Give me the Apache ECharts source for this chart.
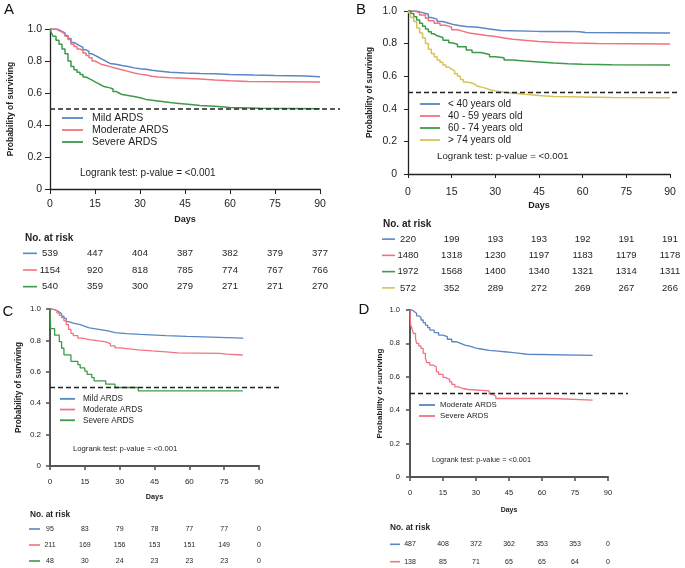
<!DOCTYPE html>
<html><head><meta charset="utf-8">
<script src="https://cdn.jsdelivr.net/npm/echarts@6/dist/echarts.min.js"></script>
<style>html,body{margin:0;padding:0;background:#fff}#c{width:685px;height:568px}</style>
</head><body><div id="c"></div>
<script>
// ---------------- DATA ----------------
const dayTicks = [0, 15, 30, 45, 60, 75, 90];
const medianRef = 0.5;
const logrankText = 'Logrank test: p-value = <0.001';

// Panel A
const A_names = ['Mild ARDS', 'Moderate ARDS', 'Severe ARDS'];
const A_mild = [[0,1],[2,0.995],[3,0.985],[4,0.975],[5,0.96],[6,0.94],[7,0.915],[8,0.905],[9,0.895],[10,0.885],[11,0.87],[12,0.86],[13,0.845],[14,0.835],[15,0.825],[16,0.815],[17,0.805],[18,0.795],[19,0.785],[20,0.78],[22,0.772],[24,0.765],[26,0.757],[28,0.752],[30,0.748],[32,0.742],[34,0.737],[36,0.73],[40,0.725],[45,0.722],[50,0.72],[55,0.716],[60,0.712],[68,0.709],[75,0.707],[85,0.702],[90,0.702]];
const A_mod = [[0,1],[2,0.99],[3,0.98],[4,0.97],[5,0.955],[6,0.935],[7,0.905],[8,0.89],[9,0.875],[10,0.865],[11,0.85],[12,0.835],[13,0.82],[14,0.80],[15,0.79],[16,0.78],[17,0.775],[18,0.765],[20,0.755],[22,0.745],[24,0.735],[26,0.725],[28,0.718],[30,0.712],[32,0.705],[34,0.70],[36,0.695],[40,0.692],[45,0.688],[50,0.682],[55,0.677],[60,0.672],[66,0.668],[90,0.667]];
const A_sev = [[0,1],[0.5,0.975],[1,0.955],[2,0.93],[3,0.905],[4,0.875],[5,0.845],[6,0.80],[7,0.765],[8,0.745],[9,0.73],[10,0.715],[11,0.70],[12,0.69],[13,0.68],[14,0.67],[15,0.66],[16,0.65],[17,0.64],[18,0.632],[20,0.625],[21,0.61],[22,0.60],[23,0.59],[24,0.585],[26,0.578],[28,0.57],[30,0.56],[32,0.555],[34,0.55],[36,0.545],[38,0.54],[40,0.535],[43,0.53],[46,0.522],[50,0.517],[55,0.51],[60,0.505],[70,0.502],[90,0.50]];
const A_riskMild = [539, 447, 404, 387, 382, 379, 377];
const A_riskMod  = [1154, 920, 818, 785, 774, 767, 766];
const A_riskSev  = [540, 359, 300, 279, 271, 271, 270];

// Panel B
const B_names = ['< 40 years old', '40 - 59 years old', '60 - 74 years old', '> 74 years old'];
const B_lt40 = [[0,1],[3,0.99],[5,0.98],[7,0.96],[8,0.95],[10,0.935],[12,0.925],[14,0.915],[16,0.91],[18,0.905],[20,0.90],[24,0.89],[28,0.88],[32,0.875],[45,0.875],[55,0.872],[59,0.868],[61,0.865],[90,0.865]];
const B_40_59 = [[0,1],[2,0.99],[4,0.975],[6,0.955],[7,0.94],[9,0.925],[11,0.912],[13,0.90],[15,0.885],[17,0.875],[19,0.865],[21,0.858],[24,0.85],[27,0.843],[30,0.835],[33,0.827],[36,0.82],[40,0.813],[45,0.808],[50,0.804],[57,0.80],[65,0.798],[90,0.796]];
const B_60_74 = [[0,1],[1,0.985],[2,0.965],[3,0.945],[4,0.925],[5,0.907],[6,0.89],[7,0.873],[8,0.86],[9,0.848],[10,0.837],[12,0.82],[14,0.805],[15,0.796],[17,0.78],[20,0.76],[22,0.745],[25,0.733],[28,0.72],[30,0.713],[33,0.70],[36,0.693],[40,0.687],[45,0.681],[50,0.677],[55,0.674],[60,0.671],[70,0.668],[90,0.665]];
const B_gt74 = [[0,1],[0.5,0.985],[1,0.96],[2,0.935],[3,0.895],[4,0.865],[5,0.835],[6,0.80],[7,0.765],[8,0.74],[9,0.72],[10,0.70],[11,0.685],[12,0.668],[13,0.655],[14,0.643],[15,0.632],[16,0.615],[17,0.60],[18,0.58],[19,0.565],[20,0.558],[22,0.55],[23,0.538],[24,0.53],[26,0.518],[28,0.51],[30,0.502],[33,0.495],[36,0.489],[40,0.482],[45,0.476],[50,0.473],[60,0.47],[70,0.468],[90,0.466]];
const B_riskLt40  = [220, 199, 193, 193, 192, 191, 191];
const B_risk40_59 = [1480, 1318, 1230, 1197, 1183, 1179, 1178];
const B_risk60_74 = [1972, 1568, 1400, 1340, 1321, 1314, 1311];
const B_riskGt74  = [572, 352, 289, 272, 269, 267, 266];

// Panel C
const C_names = ['Mild ARDS', 'Moderate ARDS', 'Severe ARDS'];
const C_mild = [[0,1],[1,0.99],[3,0.98],[4,0.97],[5,0.955],[6,0.94],[7,0.92],[8,0.91],[10,0.90],[13,0.89],[15,0.88],[17,0.87],[21,0.86],[25,0.85],[28,0.843],[33,0.838],[39,0.83],[50,0.825],[59,0.815],[83,0.81]];
const C_mod = [[0,1],[1,0.99],[3,0.975],[4,0.96],[5,0.945],[6,0.925],[7,0.90],[8,0.87],[9,0.845],[10,0.83],[12,0.815],[14,0.805],[17,0.797],[21,0.79],[24,0.78],[26,0.765],[28,0.752],[30,0.74],[38,0.733],[44,0.727],[50,0.72],[55,0.717],[73,0.713],[76,0.707],[83,0.706]];
const C_sev = [[0,1],[0.3,0.875],[2,0.833],[4,0.792],[5,0.75],[6,0.708],[9,0.667],[12,0.646],[13,0.625],[15,0.604],[16,0.583],[18,0.563],[19,0.542],[24,0.521],[28,0.50],[38,0.479],[83,0.479]];
const C_riskMild = [95, 83, 79, 78, 77, 77, 0];
const C_riskMod  = [211, 169, 156, 153, 151, 149, 0];
const C_riskSev  = [48, 30, 24, 23, 23, 23, 0];

// Panel D
const D_names = ['Moderate ARDS', 'Severe ARDS'];
const D_mod = [[0,1],[1,0.99],[2,0.98],[3,0.965],[4,0.955],[5,0.94],[6,0.925],[7,0.91],[8,0.895],[9,0.88],[11,0.865],[13,0.85],[15,0.84],[17,0.825],[19,0.81],[21,0.80],[23,0.79],[25,0.78],[28,0.772],[30,0.765],[33,0.758],[36,0.754],[40,0.75],[43,0.746],[46,0.74],[50,0.735],[53,0.728],[83,0.726]];
const D_sev = [[0,1],[0.3,0.91],[1,0.885],[1.5,0.86],[2.5,0.83],[3,0.80],[4,0.785],[5,0.77],[6,0.74],[7,0.71],[7.6,0.685],[9,0.67],[10.6,0.66],[12,0.63],[13,0.615],[15,0.596],[16,0.585],[18,0.57],[19,0.555],[20.4,0.54],[22,0.53],[24,0.524],[26.5,0.516],[36,0.496],[37,0.485],[39,0.47],[65,0.46],[83,0.46]];
const D_riskMod = [487, 408, 372, 362, 353, 353, 0];
const D_riskSev = [138, 85, 71, 65, 65, 64, 0];

// ---------------- STYLE / LAYOUT ----------------
const BLUE = '#5a86c5', RED = '#f1737f', GREEN = '#3c9a48', YELLOW = '#d6c45a';
const FONT = '"Liberation Sans", Arial, Helvetica, sans-serif';
const TXT = '#1e1e1e';

const panels = [
  { letter:'A', letterPos:[9,10],
    grid:{left:50, top:29, width:270, height:160}, dashWidth:290,
    names:A_names, curves:[A_mild,A_mod,A_sev], colors:[BLUE,RED,GREEN],
    risk:[A_riskMild,A_riskMod,A_riskSev],
    riskGrid:{top:245, height:50}, riskHead:[25,238], headFont:10, riskFont:9.5, mark:{off:-20, w:14},
    legend:{left:62, top:112, w:21, lh:12, font:10.5, pad:4},
    logrank:[80,173], logFont:10,
    tickFont:10.5, tickLen:5, xMargin:10, yMargin:8, yNameGap:35, xNameGap:26, nameFont:8.5, daysFont:9,
    axisColor:'#222', axisWidth:1.3, lineWidth:1.5 },
  { letter:'B', letterPos:[361,10],
    grid:{left:408, top:11, width:262, height:163}, dashWidth:272,
    names:B_names, curves:[B_lt40,B_40_59,B_60_74,B_gt74], colors:[BLUE,RED,GREEN,YELLOW],
    risk:[B_riskLt40,B_risk40_59,B_risk60_74,B_riskGt74],
    riskGrid:{top:231, height:65}, riskHead:[383,224], headFont:10, riskFont:9.5, mark:{off:-19.5, w:13},
    legend:{left:420, top:98, w:20, lh:12, font:10, pad:3},
    logrank:[437,156], logFont:9.7,
    tickFont:10.5, tickLen:4, xMargin:13, yMargin:11, yNameGap:34, xNameGap:27, nameFont:8.2, daysFont:9,
    axisColor:'#222', axisWidth:1.3, lineWidth:1.5 },
  { letter:'C', letterPos:[8,312],
    grid:{left:50, top:309, width:209, height:157}, dashWidth:232,
    names:C_names, curves:[C_mild,C_mod,C_sev], colors:[BLUE,RED,GREEN],
    risk:[C_riskMild,C_riskMod,C_riskSev],
    riskGrid:{top:521, height:48}, riskHead:[30,515], headFont:8.3, riskFont:7, mark:{off:-15.5, w:11},
    legend:{left:60, top:393.5, w:15, lh:10.7, font:8.2, pad:3},
    logrank:[73,449], logFont:7.7,
    tickFont:8, tickLen:4, xMargin:12, yMargin:9, yNameGap:27, xNameGap:27, nameFont:8.2, daysFont:7.3,
    axisColor:'#555', axisWidth:2, lineWidth:1.3 },
  { letter:'D', letterPos:[364,310],
    grid:{left:410, top:310, width:198, height:167}, dashWidth:218,
    names:D_names, curves:[D_mod,D_sev], colors:[BLUE,RED],
    risk:[D_riskMod,D_riskSev],
    riskGrid:{top:535.6, height:34.8}, riskHead:[390,528], headFont:8.3, riskFont:7, mark:{off:-15, w:10},
    legend:{left:419, top:399.5, w:16, lh:11, font:7.8, pad:0},
    logrank:[432,460], logFont:7.3,
    tickFont:7.5, tickLen:4, xMargin:12, yMargin:10, yNameGap:26, xNameGap:30, nameFont:8.1, daysFont:7,
    axisColor:'#555', axisWidth:2, lineWidth:1.3 }
];

const grid = [], xAxis = [], yAxis = [], series = [], legend = [], graphic = [];

panels.forEach((p) => {
  const gPlot = grid.length, gDash = gPlot + 1, gRisk = gPlot + 2;
  grid.push({ left:p.grid.left, top:p.grid.top, width:p.grid.width, height:p.grid.height, outerBoundsMode:'none', containLabel:false });
  grid.push({ left:p.grid.left, top:p.grid.top, width:p.dashWidth, height:p.grid.height, outerBoundsMode:'none', containLabel:false });
  grid.push({ left:p.grid.left, top:p.riskGrid.top, width:p.grid.width, height:p.riskGrid.height, outerBoundsMode:'none', containLabel:false });

  const axLine = { show:true, lineStyle:{ color:p.axisColor, width:p.axisWidth } };
  xAxis.push({
    gridIndex:gPlot, type:'value', min:dayTicks[0], max:dayTicks[dayTicks.length-1], interval:dayTicks[1]-dayTicks[0],
    axisLine:axLine, axisTick:{ show:true, length:p.tickLen, lineStyle:{ color:p.axisColor, width:p.axisWidth*0.8 } },
    axisLabel:{ fontSize:p.tickFont, color:TXT, margin:p.xMargin, fontFamily:FONT },
    splitLine:{ show:false },
    name:'Days', nameLocation:'middle', nameGap:p.xNameGap,
    nameTextStyle:{ fontSize:p.daysFont, fontWeight:'bold', color:TXT, fontFamily:FONT }
  });
  yAxis.push({
    gridIndex:gPlot, type:'value', min:0, max:1, interval:0.2,
    axisLine:axLine, axisTick:{ show:true, length:p.tickLen, lineStyle:{ color:p.axisColor, width:p.axisWidth*0.8 } },
    axisLabel:{ fontSize:p.tickFont, color:TXT, margin:p.yMargin, fontFamily:FONT,
      formatter:(v) => v === 0 ? '0' : v.toFixed(1) },
    splitLine:{ show:false },
    name:'Probability of surviving', nameLocation:'middle', nameGap:p.yNameGap,
    nameTextStyle:{ fontSize:p.nameFont, fontWeight:'bold', color:TXT, fontFamily:FONT }
  });
  // dashed reference overlay axes
  xAxis.push({ gridIndex:gDash, type:'value', min:0, max:1, show:false });
  yAxis.push({ gridIndex:gDash, type:'value', min:0, max:1, show:false });
  // risk table axes
  xAxis.push({ gridIndex:gRisk, type:'value', min:dayTicks[0], max:dayTicks[dayTicks.length-1], show:false });
  yAxis.push({ gridIndex:gRisk, type:'category', data:p.risk.map((_, i) => String(i)), inverse:true, show:false });

  // curves
  p.curves.forEach((c, i) => {
    series.push({
      type:'line', name:p.names[i], step:'end', xAxisIndex:gPlot, yAxisIndex:gPlot,
      data:c, showSymbol:false, symbol:'none', color:p.colors[i],
      lineStyle:{ color:p.colors[i], width:p.lineWidth }, silent:true, z:2
    });
  });
  // dashed median line
  series.push({
    type:'line', name:'ref' + p.letter, xAxisIndex:gDash, yAxisIndex:gDash,
    data:[[0, medianRef], [1, medianRef]], showSymbol:false, symbol:'none',
    lineStyle:{ color:'#222', width:1.3, type:[5,3] }, silent:true, z:3
  });
  // risk table
  p.risk.forEach((row, r) => {
    series.push({
      type:'scatter', name:'risk' + p.letter + r, xAxisIndex:gRisk, yAxisIndex:gRisk,
      data:dayTicks.map((d, k) => [d, r, row[k]]),
      symbolSize:1, itemStyle:{ color:'rgba(0,0,0,0)', opacity:1 }, silent:true,
      label:{ show:true, position:'inside', formatter:(pr) => String(pr.data[2]),
        fontSize:p.riskFont, color:TXT, fontFamily:FONT, opacity:1, textBorderWidth:0 }
    });
    series.push({
      type:'scatter', name:'riskmark' + p.letter + r, xAxisIndex:gRisk, yAxisIndex:gRisk,
      data:[[dayTicks[0], r]], symbol:'rect', symbolSize:[p.mark.w, 1.6], symbolOffset:[p.mark.off, 0],
      itemStyle:{ color:p.colors[r], opacity:1 }, silent:true
    });
  });

  legend.push({
    orient:'vertical', left:p.legend.left, top:p.legend.top, itemGap:0,
    itemWidth:p.legend.w, itemHeight:1.8, icon:'rect', selectedMode:false, padding:0,
    textStyle:{ fontSize:p.legend.font, color:TXT, fontFamily:FONT, lineHeight:p.legend.lh, padding:[0,0,0,p.legend.pad] },
    data:p.names.map((n, i) => ({ name:n, icon:'rect', itemStyle:{ color:p.colors[i], borderWidth:0, opacity:1 } }))
  });

  graphic.push({ type:'text', x:p.letterPos[0], y:p.letterPos[1],
    style:{ text:p.letter, fontSize:15, fontFamily:FONT, fill:'#111', align:'center', verticalAlign:'middle' } });
  graphic.push({ type:'text', x:p.riskHead[0], y:p.riskHead[1],
    style:{ text:'No. at risk', fontSize:p.headFont, fontWeight:'bold', fontFamily:FONT, fill:TXT, align:'left', verticalAlign:'middle' } });
  graphic.push({ type:'text', x:p.logrank[0], y:p.logrank[1],
    style:{ text:logrankText, fontSize:p.logFont, fontFamily:FONT, fill:TXT, align:'left', verticalAlign:'middle' } });
});

const chart = echarts.init(document.getElementById('c'), null, { renderer:'canvas' });
chart.setOption({
  animation:false,
  backgroundColor:'#fff',
  textStyle:{ fontFamily:FONT },
  grid, xAxis, yAxis, series, legend, graphic
});
</script>
</body></html>
